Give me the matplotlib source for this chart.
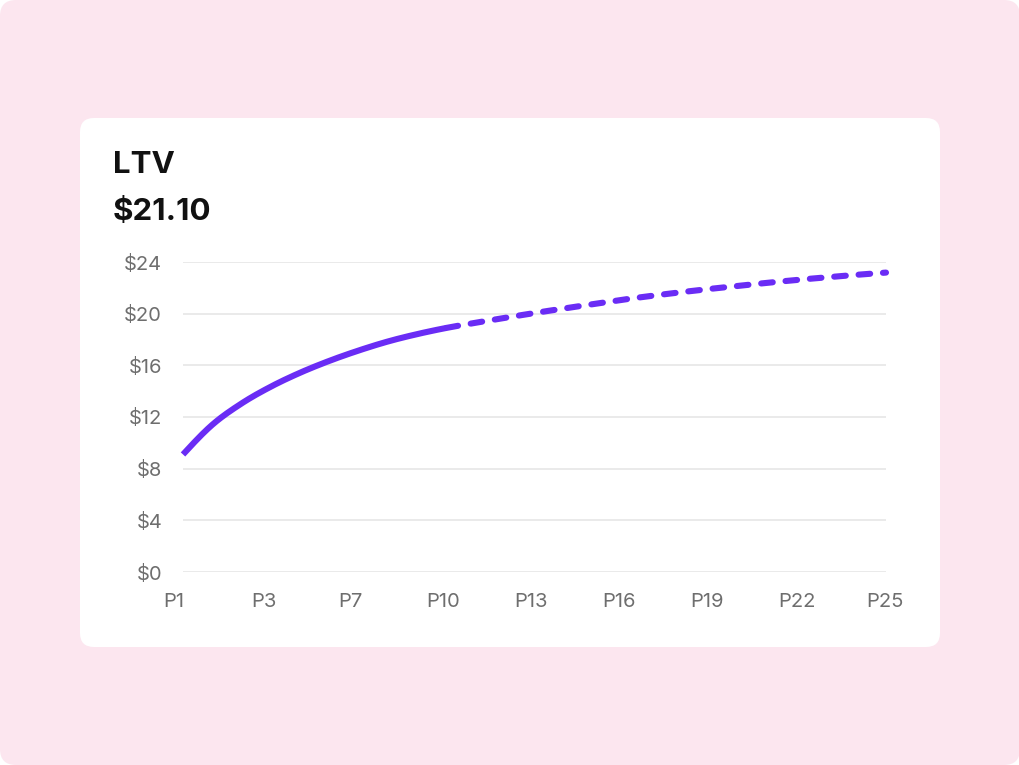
import numpy as np
import matplotlib.pyplot as plt
import matplotlib.transforms as mtransforms
from matplotlib.patches import FancyBboxPatch

plt.rcParams['font.family'] = ['Inter', 'DejaVu Sans']

# LTV per period
periods = list(range(1, 26))
ltv = [9.1, 11.4, 13.05, 14.35, 15.43, 16.35, 17.15, 17.85, 18.42, 18.9,
       19.3, 19.68, 20.05, 20.4, 20.74, 21.08, 21.38, 21.66, 21.92, 22.16,
       22.4, 22.62, 22.82, 23.01, 23.18]
actual_until = 10  # solid up to here, projected (dashed) after
tick_pos = [1, 4, 7, 10, 13, 16, 19, 22, 25]
tick_labels = ['P1', 'P3', 'P7', 'P10', 'P13', 'P16', 'P19', 'P22', 'P25']
y_ticks = [0, 4, 8, 12, 16, 20, 24]


def smooth(x, y, n=20):
    # monotone cubic curve through the points (d3 curveMonotoneX style)
    x = np.asarray(x, float)
    y = np.asarray(y, float)
    h = np.diff(x)
    s = np.diff(y) / h
    m = np.zeros_like(y)
    for k in range(1, len(y) - 1):
        p = (s[k - 1] * h[k] + s[k] * h[k - 1]) / (h[k - 1] + h[k])
        m[k] = (np.sign(s[k - 1]) + np.sign(s[k])) * min(abs(s[k - 1]), abs(s[k]), 0.5 * abs(p))
    m[0] = (3 * s[0] - m[1]) / 2
    m[-1] = (3 * s[-1] - m[-2]) / 2
    xs, ys = [], []
    for k in range(len(h)):
        t = np.linspace(0, 1, n, endpoint=False)
        h00 = 2 * t**3 - 3 * t**2 + 1
        h10 = t**3 - 2 * t**2 + t
        h01 = -2 * t**3 + 3 * t**2
        h11 = t**3 - t**2
        xs.append(x[k] + t * h[k])
        ys.append(h00 * y[k] + h10 * h[k] * m[k] + h01 * y[k + 1] + h11 * h[k] * m[k + 1])
    xs.append([x[-1]])
    ys.append([y[-1]])
    return np.concatenate(xs), np.concatenate(ys)


W, H = 1020, 765
fig = plt.figure(figsize=(W / 100, H / 100), dpi=100)
fig.patch.set_facecolor('white')

# pink backdrop and white card
bg = FancyBboxPatch((0, 0), W, H, boxstyle='round,pad=0,rounding_size=16',
                    transform=None, facecolor='#fce6ef', edgecolor='none', zorder=-2)
card = FancyBboxPatch((80, H - 647), 860, 529, boxstyle='round,pad=0,rounding_size=14',
                      transform=None, facecolor='white', edgecolor='none', zorder=-1)
fig.patches.extend([bg, card])

fig.text(113 / W, 1 - 173 / H, 'LTV', fontsize=22.5, fontweight='bold',
         color='#111111', va='baseline')
fig.text(113 / W, 1 - 220 / H, '$21.10', fontsize=22.5, fontweight='bold',
         color='#111111', va='baseline')

ax = fig.add_axes([183 / W, 1 - 572 / H, (886 - 183) / W, (572 - 262) / H])
ax.set_facecolor('none')

purple = '#6a2cf5'
xs, ys = smooth(periods, ltv)
ax.plot(xs[xs <= actual_until], ys[xs <= actual_until], color=purple, lw=4.4,
        solid_capstyle='butt', clip_on=False, zorder=3)
ax.plot(xs[xs >= actual_until], ys[xs >= actual_until], color=purple, lw=4.4,
        dashes=(1.9, 2.1), dash_capstyle='round', clip_on=False, zorder=3)

ax.set_xlim(1, 25)
ax.set_ylim(0, 24)
ax.set_xticks(tick_pos)
ax.set_xticklabels(tick_labels, ha='left')
ax.set_yticks(y_ticks)
ax.set_yticklabels(['$%d' % v for v in y_ticks])
ax.tick_params(length=0, labelsize=14.5, labelcolor='#6e6e6e')
ax.tick_params(axis='x', pad=15)
ax.tick_params(axis='y', pad=15)
ax.grid(axis='y', color='#e4e4e4', lw=1.1)
ax.set_axisbelow(True)
for sp in ax.spines.values():
    sp.set_visible(False)

# x labels start a bit left of their tick
shift = mtransforms.ScaledTranslation(-20 / 100, 0, fig.dpi_scale_trans)
for lab in ax.get_xticklabels():
    lab.set_transform(lab.get_transform() + shift)

fig.savefig('out.png', dpi=100, facecolor=fig.get_facecolor())
